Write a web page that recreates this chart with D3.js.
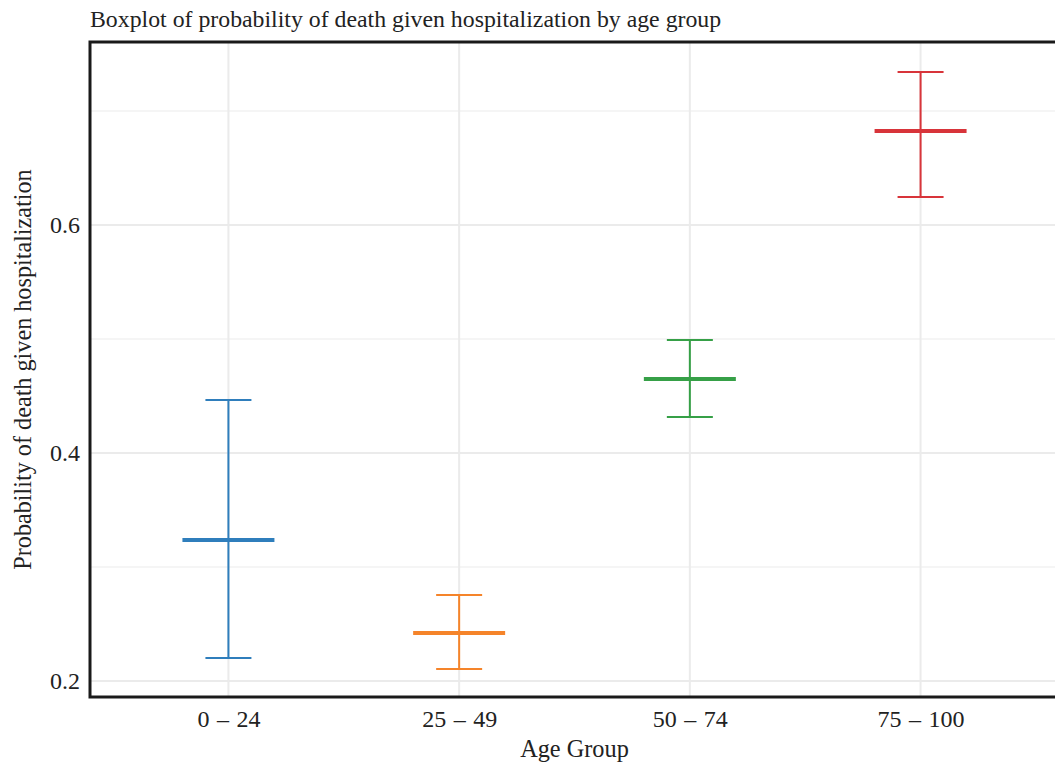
<!DOCTYPE html>
<html>
<head>
<meta charset="utf-8">
<script src="https://cdn.jsdelivr.net/npm/d3@7"></script>
<style>
  body { margin: 0; background: #fff; }
  svg { display: block; }
  text { font-family: "Liberation Serif", "Times New Roman", serif; fill: #222; }
</style>
</head>
<body>
<div id="chart"></div>
<script>
// data
var groups = ['0 – 24', '25 – 49', '50 – 74', '75 – 100']
var whisker_low = [0.2202, 0.2105, 0.4316, 0.6246]
var medians = [0.3237, 0.2421, 0.4649, 0.6825]
var whisker_high = [0.4465, 0.2754, 0.4991, 0.7342]
var colors = ['#2f7ebc', '#f5842a', '#36a047', '#d8343a']
var major_ticks = [0.2, 0.4, 0.6]
var minor_ticks = [0.3, 0.5, 0.7]

var W = 1055, H = 764
var margin = {top: 42, right: -4, bottom: 67, left: 90}
var width = W - margin.left - margin.right,
    height = H - margin.top - margin.bottom

var svg = d3.select("#chart").append("svg")
    .attr("width", W)
    .attr("height", H)

// title
svg.append("text")
    .attr("x", 90)
    .attr("y", 27)
    .style("font-size", "23.8px")
    .text("Boxplot of probability of death given hospitalization by age group")

var g = svg.append("g")
    .attr("transform", "translate(" + margin.left + "," + margin.top + ")")

var x = d3.scalePoint()
    .domain(groups)
    .range([0, width])
    .padding(0.6)

var y = d3.scaleLinear()
    .domain([0.186, 0.7605])
    .range([height, 0])

var cx = function(i){ return x(groups[i]) }

// gridlines
g.selectAll(".gy-minor")
    .data(minor_ticks)
    .enter().append("line")
    .attr("x1", 0).attr("x2", width)
    .attr("y1", function(d){ return y(d) })
    .attr("y2", function(d){ return y(d) })
    .attr("stroke", "#f2f2f2")
    .attr("stroke-width", 1.5)

g.selectAll(".gy-major")
    .data(major_ticks)
    .enter().append("line")
    .attr("x1", 0).attr("x2", width)
    .attr("y1", function(d){ return y(d) })
    .attr("y2", function(d){ return y(d) })
    .attr("stroke", "#ebebeb")
    .attr("stroke-width", 2)

g.selectAll(".gx")
    .data(groups)
    .enter().append("line")
    .attr("x1", function(d, i){ return cx(i) })
    .attr("x2", function(d, i){ return cx(i) })
    .attr("y1", 0).attr("y2", height)
    .attr("stroke", "#ebebeb")
    .attr("stroke-width", 2)

// boxes (whiskers + median)
var box = g.selectAll(".box")
    .data(groups)
    .enter().append("g")

box.append("line")
    .attr("x1", function(d, i){ return cx(i) })
    .attr("x2", function(d, i){ return cx(i) })
    .attr("y1", function(d, i){ return y(whisker_low[i]) })
    .attr("y2", function(d, i){ return y(whisker_high[i]) })
    .attr("stroke", function(d, i){ return colors[i] })
    .attr("stroke-width", 2)

box.append("line")
    .attr("x1", function(d, i){ return cx(i) - 23 })
    .attr("x2", function(d, i){ return cx(i) + 23 })
    .attr("y1", function(d, i){ return y(whisker_high[i]) })
    .attr("y2", function(d, i){ return y(whisker_high[i]) })
    .attr("stroke", function(d, i){ return colors[i] })
    .attr("stroke-width", 2)

box.append("line")
    .attr("x1", function(d, i){ return cx(i) - 23 })
    .attr("x2", function(d, i){ return cx(i) + 23 })
    .attr("y1", function(d, i){ return y(whisker_low[i]) })
    .attr("y2", function(d, i){ return y(whisker_low[i]) })
    .attr("stroke", function(d, i){ return colors[i] })
    .attr("stroke-width", 2)

box.append("line")
    .attr("x1", function(d, i){ return cx(i) - 46 })
    .attr("x2", function(d, i){ return cx(i) + 46 })
    .attr("y1", function(d, i){ return y(medians[i]) })
    .attr("y2", function(d, i){ return y(medians[i]) })
    .attr("stroke", function(d, i){ return colors[i] })
    .attr("stroke-width", 4)

// frame
g.append("rect")
    .attr("x", 0).attr("y", 0)
    .attr("width", width).attr("height", height)
    .attr("fill", "none")
    .attr("stroke", "#1a1a1a")
    .attr("stroke-width", 3)

// axes
var xAxis = g.append("g")
    .attr("transform", "translate(0," + height + ")")
    .call(d3.axisBottom(x).tickSize(0).tickPadding(13))
xAxis.select(".domain").remove()
xAxis.selectAll("text")
    .style("font-size", "24px")
    .style("font-family", "Liberation Serif, serif")
    .style("word-spacing", "1.5px")
    .attr("fill", "#222")

var yAxis = g.append("g")
    .call(d3.axisLeft(y).tickValues(major_ticks).tickFormat(d3.format(".1f")).tickSize(0).tickPadding(10))
yAxis.select(".domain").remove()
yAxis.selectAll("text")
    .style("font-size", "24px")
    .style("font-family", "Liberation Serif, serif")
    .attr("fill", "#222")

// axis titles
svg.append("text")
    .attr("x", margin.left + (cx(1) + cx(2)) / 2)
    .attr("y", 757)
    .attr("text-anchor", "middle")
    .style("font-size", "24.3px")
    .text("Age Group")

svg.append("text")
    .attr("transform", "translate(31," + (margin.top + height / 2) + ") rotate(-90)")
    .attr("text-anchor", "middle")
    .style("font-size", "24.2px")
    .text("Probability of death given hospitalization")
</script>
</body>
</html>
